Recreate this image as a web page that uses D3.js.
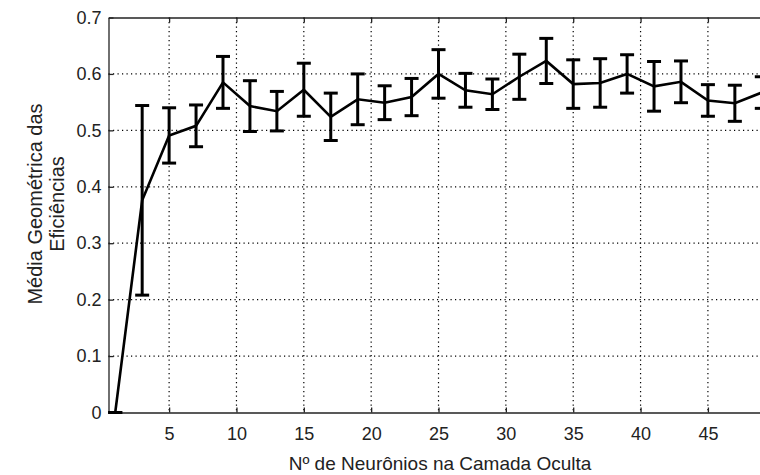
<!DOCTYPE html>
<html>

<head>
    <meta charset="utf-8">
    <title>Média Geométrica das Eficiências</title>
    <style>
        body {
            margin: 0;
            background: #fff;
        }

        svg text {
            font-family: "Liberation Sans", Arial, sans-serif;
            fill: #222;
        }

        .grid line {
            stroke: #000;
            stroke-width: 1.2px;
            stroke-dasharray: 1.2 3.3;
        }
    </style>

    <script src="https://d3js.org/d3.v7.min.js"></script>

</head>

<body>
    <script>
        // neuron counts in the hidden layer
        var neurons = [1, 3, 5, 7, 9, 11, 13, 15, 17, 19, 21, 23, 25, 27, 29, 31, 33, 35, 37, 39, 41, 43, 45, 47, 49];
        // geometric mean of efficiencies
        var means = [0, 0.376, 0.491, 0.508, 0.585, 0.543, 0.534, 0.572, 0.524, 0.555, 0.549, 0.559, 0.600,
            0.571, 0.564, 0.595, 0.623, 0.582, 0.584, 0.600, 0.578, 0.586, 0.553, 0.548, 0.567];
        // error bar half-length
        var errs = [0, 0.168, 0.049, 0.037, 0.046, 0.045, 0.035, 0.047, 0.042, 0.045, 0.030, 0.033, 0.043,
            0.030, 0.027, 0.040, 0.040, 0.043, 0.043, 0.034, 0.044, 0.037, 0.028, 0.032, 0.028];
        var xTicks = [5, 10, 15, 20, 25, 30, 35, 40, 45];
        var yTicks = [0, 0.1, 0.2, 0.3, 0.4, 0.5, 0.6, 0.7];

        var w = 760;
        var h = 475;
        var mLeft = 108.5, mTop = 17.5, mRight = 782, mBottom = 412.5;

        var svg = d3.select("body").append("svg")
            .attr("width", w)
            .attr("height", h);

        var x = d3.scaleLinear().domain([0.5, 50.5]).range([mLeft, mRight]);
        var y = d3.scaleLinear().domain([0, 0.7]).range([mBottom, mTop]);

        // dotted grid
        var grid = svg.append("g").attr("class", "grid");
        grid.selectAll(".gx")
            .data(xTicks)
            .enter()
            .append("line")
            .attr("x1", function (d) { return x(d); })
            .attr("x2", function (d) { return x(d); })
            .attr("y1", mTop)
            .attr("y2", mBottom);
        grid.selectAll(".gy")
            .data(yTicks.slice(1, -1))
            .enter()
            .append("line")
            .attr("x1", mLeft)
            .attr("x2", mRight)
            .attr("y1", function (d) { return y(d); })
            .attr("y2", function (d) { return y(d); });

        // axes box with inner ticks
        function styleDomain(g) {
            g.select(".domain").attr("stroke", "#222").attr("stroke-width", 1.3);
        }
        svg.append("g")
            .attr("transform", "translate(0," + mBottom + ")")
            .call(d3.axisBottom(x).tickValues(xTicks).tickSizeInner(-5).tickSizeOuter(0).tickPadding(15))
            .call(styleDomain);
        svg.append("g")
            .attr("transform", "translate(0," + mTop + ")")
            .call(d3.axisTop(x).tickValues(xTicks).tickSizeInner(-5).tickSizeOuter(0).tickFormat(""))
            .call(styleDomain);
        svg.append("g")
            .attr("transform", "translate(" + mLeft + ",0)")
            .call(d3.axisLeft(y).tickValues(yTicks).tickSizeInner(-5).tickSizeOuter(0).tickPadding(7)
                .tickFormat(function (d) { return d === 0 ? "0" : d3.format(".1f")(d); }))
            .call(styleDomain);

        svg.selectAll(".tick line").attr("stroke", "#222").attr("stroke-width", 1.3);
        svg.selectAll(".tick text")
            .attr("font-family", "Liberation Sans, Arial, sans-serif")
            .attr("font-size", 18)
            .attr("fill", "#222");

        // error bars
        var capW = 7;
        var bars = svg.append("g")
            .attr("stroke", "#000")
            .attr("stroke-width", 3)
            .attr("fill", "none");
        neurons.forEach(function (n, i) {
            var lo = y(means[i] - errs[i]), hi = y(means[i] + errs[i]);
            bars.append("line").attr("x1", x(n)).attr("x2", x(n)).attr("y1", lo).attr("y2", hi);
            bars.append("line").attr("x1", x(n) - capW).attr("x2", x(n) + capW).attr("y1", lo).attr("y2", lo);
            bars.append("line").attr("x1", x(n) - capW).attr("x2", x(n) + capW).attr("y1", hi).attr("y2", hi);
        });

        // mean line
        var line = d3.line()
            .x(function (d, i) { return x(neurons[i]); })
            .y(function (d) { return y(d); });
        svg.append("path")
            .datum(means)
            .attr("d", line)
            .attr("fill", "none")
            .attr("stroke", "#000")
            .attr("stroke-width", 2.6);

        // labels
        svg.append("text")
            .attr("x", 440)
            .attr("y", 470)
            .attr("text-anchor", "middle")
            .attr("font-size", 19)
            .text("Nº de Neurônios na Camada Oculta");

        var yl = svg.append("text")
            .attr("transform", "translate(42,204) rotate(-90)")
            .attr("text-anchor", "middle")
            .attr("font-size", 20);
        yl.append("tspan").attr("x", 0).attr("dy", 0).text("Média Geométrica das");
        yl.append("tspan").attr("x", 0).attr("dy", 22).text("Eficiências");
    </script>

</body>

</html>
